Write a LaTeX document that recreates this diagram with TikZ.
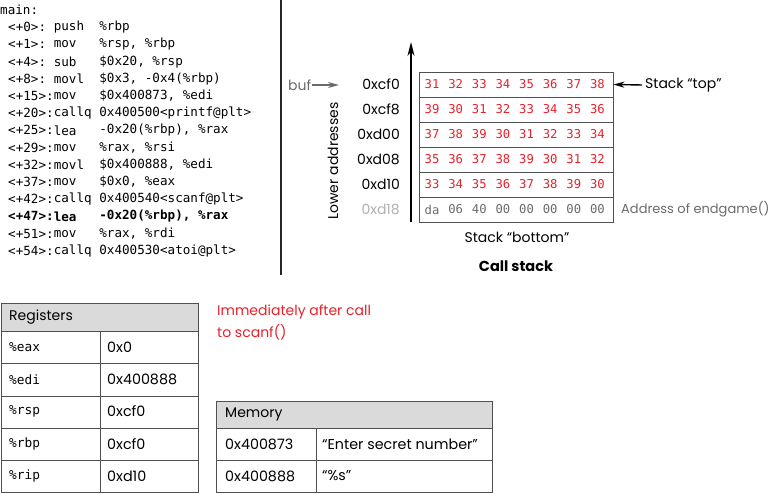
\documentclass[tikz,border=0pt]{standalone}
\usepackage{fontspec}
\setmainfont{Poppins}
\setmonofont{DejaVu Sans Mono}
\usetikzlibrary{arrows.meta}
\definecolor{redt}{HTML}{E8202A}
\definecolor{grayt}{HTML}{6A6A6A}
\definecolor{lgrayt}{HTML}{B0B0B0}
\definecolor{hdrfill}{HTML}{DADADA}
\definecolor{bordc}{HTML}{505050}
\begin{document}
\begin{tikzpicture}[x=1pt,y=-1pt,
  codetxt/.style={anchor=west,inner sep=0pt,font=\fontsize{12.6}{15}\selectfont\ttfamily},
  boldcode/.style={codetxt,font=\fontsize{12.6}{15}\selectfont\ttfamily\bfseries},
  sanstxt/.style={inner sep=0pt,font=\fontsize{14}{16}\selectfont},
  cell/.style={inner sep=0pt,font=\fontsize{12.2}{15}\selectfont\ttfamily,text=redt},
  gcell/.style={cell,text=grayt},
  tblbox/.style={draw=bordc,line width=0.8pt},
  hdr/.style={tblbox,fill=hdrfill},
  regtxt/.style={anchor=west,inner sep=0pt,font=\fontsize{12.8}{15}\selectfont\ttfamily},
  valtxt/.style={anchor=west,inner sep=0pt,font=\fontsize{14.3}{16}\selectfont},
  redtxt/.style={anchor=west,inner sep=0pt,font=\fontsize{14}{16}\selectfont,text=redt},
  sep/.style={line width=1.2pt,draw=black!85}
]
\useasboundingbox (0,0) rectangle (772,494);

% ---------- code listing ----------
\node[codetxt] (m0) at (0,10) {main:};
\foreach \i/\a/\b/\c in {
 1/{<+0>:}/{push}/{\%rbp},
 2/{<+1>:}/{mov}/{\%rsp, \%rbp},
 3/{<+4>:}/{sub}/{\$0x20, \%rsp},
 4/{<+8>:}/{movl}/{\$0x3, -0x4(\%rbp)},
 5/{<+15>:}/{mov}/{\$0x400873, \%edi},
 6/{<+20>:}/{callq}/{0x400500<printf@plt>},
 7/{<+25>:}/{lea}/{-0x20(\%rbp), \%rax},
 8/{<+29>:}/{mov}/{\%rax, \%rsi},
 9/{<+32>:}/{movl}/{\$0x400888, \%edi},
 10/{<+37>:}/{mov}/{\$0x0, \%eax},
 11/{<+42>:}/{callq}/{0x400540<scanf@plt>},
 13/{<+51>:}/{mov}/{\%rax, \%rdi},
 14/{<+54>:}/{callq}/{0x400530<atoi@plt>}}{
  \node[codetxt] (la\i) at (8,10+17.2*\i) {\a};
  \node[codetxt] (mn\i) at (53.6,10+17.2*\i) {\b};
  \node[codetxt] (op\i) at (99.2,10+17.2*\i) {\c};
}
\node[boldcode] (la12) at (8,10+17.2*12) {<+47>:};
\node[boldcode] (mn12) at (53.6,10+17.2*12) {lea};
\node[boldcode] (op12) at (99.2,10+17.2*12) {-0x20(\%rbp), \%rax};

% separator
\coordinate (sepA) at (281,0);
\coordinate (sepB) at (281,275);
\draw[sep] (sepA) -- (sepB);

% ---------- call stack ----------
\coordinate (axB) at (411,222);
\coordinate (axT) at (411,42);
\draw[line width=1.6pt,-{Stealth[length=14pt,width=7pt]}] (axB) -- (axT);

\node[sanstxt,rotate=90] (lower) at (333,161) {Lower addresses};

\foreach \r/\ad in {0/0xcf0,1/0xcf8,2/0xd00,3/0xd08,4/0xd10}{
  \node[sanstxt,anchor=east] (ad\r) at (400,84.5+25*\r) {\ad};
}
\node[sanstxt,anchor=east,text=lgrayt] (ad5) at (400,209.5) {0xd18};

\foreach \r in {0,...,5}{
  \node[tblbox,minimum width=194pt,minimum height=25pt,inner sep=0pt] (row\r) at (516,84.5+25*\r) {};
}

\foreach \r/\vals in {
 0/{31,32,33,34,35,36,37,38},
 1/{39,30,31,32,33,34,35,36},
 2/{37,38,39,30,31,32,33,34},
 3/{35,36,37,38,39,30,31,32},
 4/{33,34,35,36,37,38,39,30}}{
  \foreach \v [count=\k from 0] in \vals {
    \node[cell] (c\r-\k) at (432+23.64*\k,84.5+25*\r) {\v};
  }
}
\foreach \v [count=\k from 0] in {da,06,40,00,00,00,00,00}{
  \node[gcell] (c5-\k) at (432+23.64*\k,209.5) {\v};
}

\node[sanstxt,anchor=west,text=grayt] (buf) at (288,85) {buf};
\draw[grayt,line width=1.4pt,-{Stealth[length=11pt,width=6pt]}] (buf.east) ++(1pt,0) coordinate (bufS) -- (339,85) coordinate (bufE);

\node[sanstxt,anchor=west] (top) at (645,85) {Stack “top”};
\draw[line width=1.4pt,-{Stealth[length=11pt,width=6pt]}] (top.west) ++(-3pt,0) coordinate (topS) -- (row0.east) ;

\node[sanstxt,anchor=west,text=grayt,font=\fontsize{13}{15}\selectfont] (endg) at (621,209.5) {Address of endgame()};

\node[sanstxt] (bottom) at (517,237) {Stack “bottom”};
\node[sanstxt,font=\fontsize{14.5}{16}\selectfont\bfseries] (title) at (516,266) {Call stack};

% ---------- registers ----------
\node[hdr,minimum width=197pt,minimum height=28pt,inner sep=0pt,anchor=north west] (reghdr) at (1,303) {};
\node[valtxt,font=\fontsize{14}{16}\selectfont] (regttl) at (9,317) {Registers};
\foreach \r/\n/\v in {0/\%eax/0x0,1/\%edi/0x400888,2/\%rsp/0xcf0,3/\%rbp/0xcf0,4/\%rip/0xd10}{
  \node[tblbox,minimum width=98.5pt,minimum height=32.3pt,inner sep=0pt,anchor=north west] (rn\r) at (1,331+32.3*\r) {};
  \node[tblbox,minimum width=98.5pt,minimum height=32.3pt,inner sep=0pt,anchor=north west] (rv\r) at (99.5,331+32.3*\r) {};
  \node[regtxt] (rnt\r) at (9,347+32.3*\r) {\n};
  \node[valtxt] (rvt\r) at (107,347+32.3*\r) {\v};
}

\node[redtxt] (note1) at (217,312) {Immediately after call};
\node[redtxt] (note2) at (217,332) {to scanf()};

% ---------- memory ----------
\node[hdr,minimum width=276pt,minimum height=27pt,inner sep=0pt,anchor=north west] (memhdr) at (216,401) {};
\node[valtxt,font=\fontsize{14}{16}\selectfont] (memttl) at (225,414) {Memory};
\foreach \r/\a/\s in {0/0x400873/{“Enter secret number”},1/0x400888/{“\%s”}}{
  \node[tblbox,minimum width=100pt,minimum height=32pt,inner sep=0pt,anchor=north west] (ma\r) at (216,428+32*\r) {};
  \node[tblbox,minimum width=176pt,minimum height=32pt,inner sep=0pt,anchor=north west] (ms\r) at (316,428+32*\r) {};
  \node[valtxt] (mat\r) at (225,444+32*\r) {\a};
  \node[valtxt] (mst\r) at (322,444+32*\r) {\s};
}
\end{tikzpicture}
\end{document}
